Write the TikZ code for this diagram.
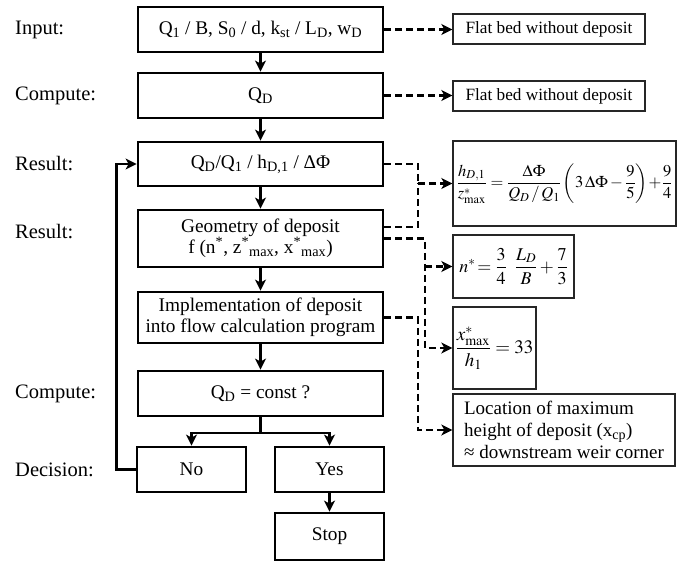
\documentclass[tikz,border=0pt]{standalone}
\usepackage{amsmath}
\usepackage{mathptmx}
\usepackage{fontspec}
\setmainfont{Liberation Serif}
\usetikzlibrary{arrows.meta}
\newcommand\sbs[1]{\textsubscript{#1}}
\begin{document}
\begin{tikzpicture}[x=1pt,y=-1pt,
  mainbox/.style={draw=black, line width=2.8pt, inner sep=0pt, minimum width=245pt,
    align=center, font=\fontsize{19.3}{22}\selectfont},
  smallbox/.style={draw=black, line width=2.8pt, inner sep=0pt, minimum width=109pt,
    minimum height=45pt, font=\fontsize{19.3}{22}\selectfont},
  sidebox/.style={draw=black!85, line width=1.3pt, inner sep=0pt},
  lbl/.style={anchor=west, inner sep=0pt, font=\fontsize{20.5}{24}\selectfont},
  flow/.style={line width=2.8pt, -{Stealth[length=11pt,width=11pt,inset=3pt]}},
  flowline/.style={line width=2.8pt},
  dasharrow/.style={line width=2.5pt, dash pattern=on 7pt off 4pt, -{Stealth[length=11pt,width=11pt,inset=3pt]}},
  dashline/.style={line width=2.5pt, dash pattern=on 7pt off 4pt}
]
\useasboundingbox (0,0) rectangle (682,561);

% labels
\node[lbl] (l1) at (15,29.5) {Input:};
\node[lbl] (l2) at (15,95.5) {Compute:};
\node[lbl] (l3) at (15,164) {Result:};
\node[lbl] (l4) at (15,232) {Result:};
\node[lbl] (l5) at (15,393.5) {Compute:};
\node[lbl] (l6) at (15,469.5) {Decision:};

% main boxes
\node[mainbox, minimum height=45pt] (b1) at (260.5,29.5)
  {Q\sbs{1} / B, S\sbs{0} / d, k\sbs{st} / L\sbs{D}, w\sbs{D}};
\node[mainbox, minimum height=45pt] (b2) at (260.5,95.5) {Q\sbs{D}};
\node[mainbox, minimum height=44pt] (b3) at (260.5,164)
  {Q\sbs{D}/Q\sbs{1} / h\sbs{D,1} / ΔΦ};
\node[mainbox, minimum height=57pt] (b4) at (260.5,238.5)
  {Geometry of deposit\\[-1pt] f (n\textsuperscript{*}, z\textsuperscript{*}\sbs{max}, x\textsuperscript{*}\sbs{max})};
\node[mainbox, minimum height=51pt] (b5) at (260.5,317.5)
  {Implementation of deposit\\[-1pt] into flow calculation program};
\node[mainbox, minimum height=45pt] (b6) at (260.5,393.5) {Q\sbs{D} = const ?};
\node[smallbox] (no) at (191.5,469.5) {No};
\node[smallbox] (yes) at (329.5,469.5) {Yes};
\node[smallbox, minimum height=47pt] (stop) at (329.5,536.5) {Stop};

% side boxes
\node[sidebox, minimum width=192pt, minimum height=30pt, font=\fontsize{17.2}{20}\selectfont] (s1) at (549,29) {Flat bed without deposit};
\node[sidebox, minimum width=192pt, minimum height=30pt, font=\fontsize{17.2}{20}\selectfont] (s2) at (549,96) {Flat bed without deposit};
\node[sidebox, minimum width=223pt, minimum height=85pt, font=\fontsize{16.5}{20}\selectfont] (s3) at (564.5,183.5)
  {$\dfrac{h_{D,1}}{z^{*}_{\max}} = \dfrac{\Delta\Phi}{Q_D\,/\,Q_1}\left(3\,\Delta\Phi-\dfrac{9}{5}\right)\!+\!\dfrac{9}{4}$};
\node[sidebox, minimum width=121pt, minimum height=63pt, font=\fontsize{18}{21}\selectfont] (s4) at (513.5,266.5)
  {$n^{*}\!=\dfrac{3}{4}\;\;\dfrac{L_D}{B}+\dfrac{7}{3}$};
\node[sidebox, minimum width=83pt, minimum height=82pt, font=\fontsize{19}{22}\selectfont] (s5) at (494.5,348)
  {$\dfrac{x^{*}_{\max}}{h_1}=33$};
\node[sidebox, minimum width=222pt, minimum height=72pt, align=left, font=\fontsize{19}{22}\selectfont] (s6) at (564,430)
  {Location of maximum\\ height of deposit (x\sbs{cp})\\ ≈ downstream weir corner};

% main flow
\draw[flow] (b1) -- (b2);
\draw[flow] (b2) -- (b3);
\draw[flow] (b3) -- (b4);
\draw[flow] (b4) -- (b5);
\draw[flow] (b5) -- (b6);
\draw[flowline] (b6.south) -- ++(0,15.5) coordinate (br);
\draw[flow] ([xshift=-1.4pt]br -| no) -| (no.north);
\draw[flow] ([xshift=1.4pt]br -| yes) -| (yes.north);
\draw[flowline] (br -| no) -- (br -| yes);
\draw[flow] (yes) -- (stop);
\draw[flow] (no.west) -- ++(-19,0) |- (b3.west);

% dashed connectors
\coordinate (j1) at (418,183.5);
\coordinate (j2) at (425,266.5);
\coordinate (j3) at (418,430);
\draw[dasharrow] (b1.east) -- (s1.west |- b1.east);
\draw[dasharrow] (b2.east) -- (s2.west |- b2.east);
\draw[dashline] (b3.east) -| (j1);
\draw[dashline] ([yshift=11.5pt]b4.east) -| (j1);
\draw[dasharrow] (j1) -- (s3.west);
\draw[dasharrow] (b4.east) -| (j2) |- (s5.west);
\draw[dasharrow] (j2) -- (s4.west);
\draw[dasharrow] (b5.east) -| (j3) -- (s6.west);
\end{tikzpicture}
\end{document}
